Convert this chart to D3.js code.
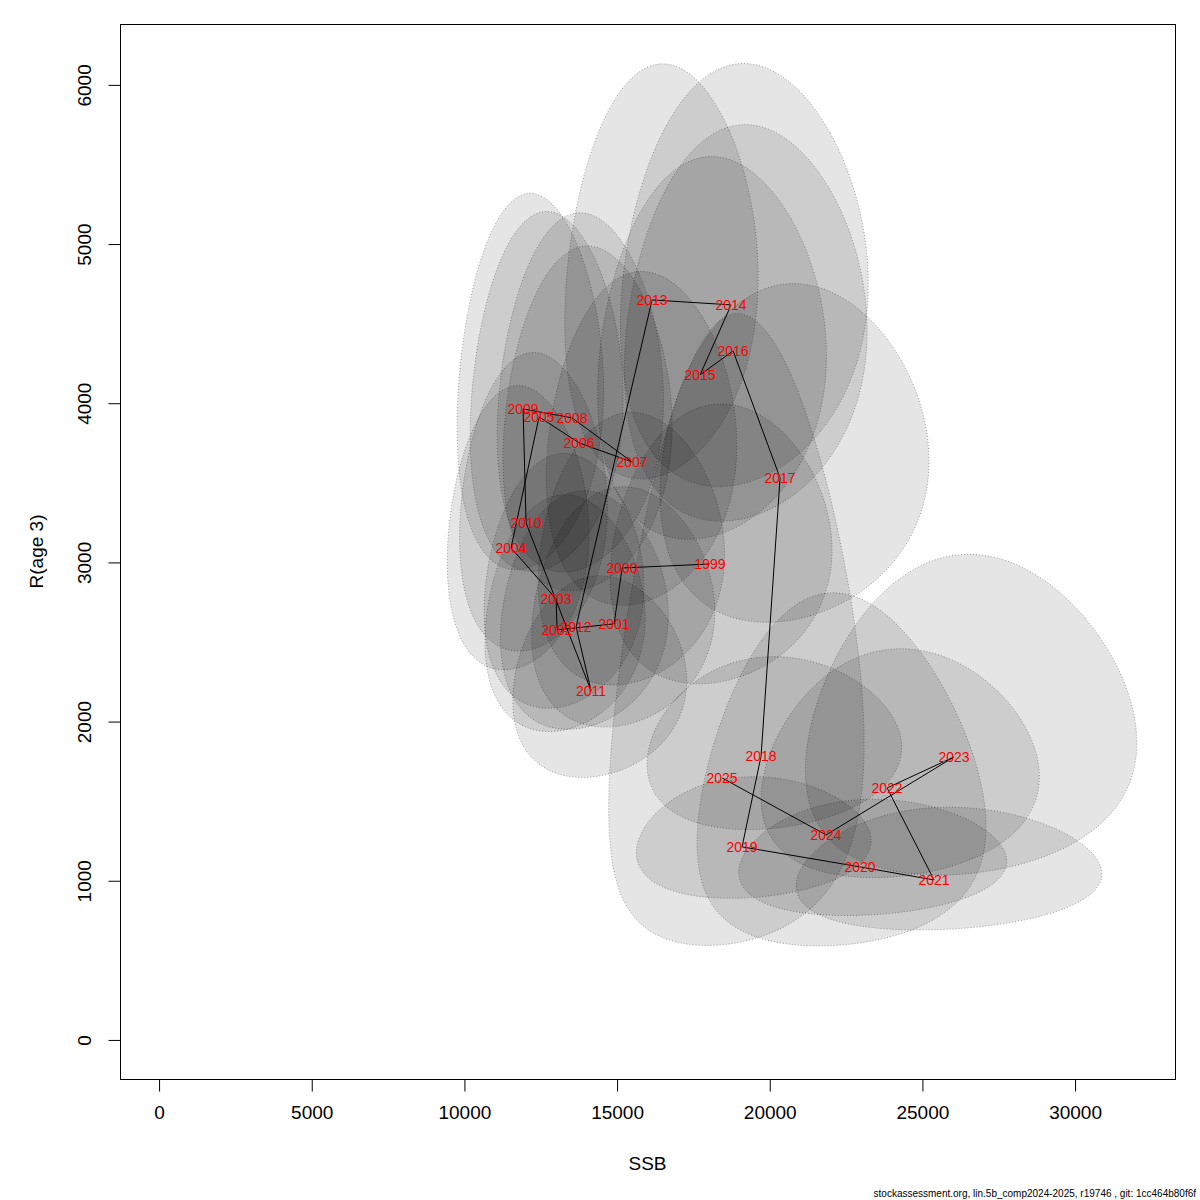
<!DOCTYPE html>
<html>
<head>
<meta charset="utf-8">
<script src="https://cdn.jsdelivr.net/npm/d3@7"></script>
<style>
  body { margin: 0; background: #fff; }
  text { font-family: "Liberation Sans", Arial, Helvetica, sans-serif; }
</style>
</head>
<body>
<div id="chart"></div>
<script>
// recruitment year, SSB, R(age 3)
var years = [1999, 2000, 2001, 2002, 2003, 2004, 2005, 2006, 2007, 2008, 2009, 2010, 2011, 2012,
             2013, 2014, 2015, 2016, 2017, 2018, 2019, 2020, 2021, 2022, 2023, 2024, 2025]
var ssb = [18046, 15164, 14902, 13035, 13002, 11528, 12445, 13756, 15491, 13526, 11921, 12020, 14149, 13657,
           16146, 18734, 17718, 18799, 20339, 19716, 19094, 22959, 25382, 23843, 26037, 21845, 18439]
var rec = [2990, 2965, 2614, 2576, 2771, 3091, 3914, 3751, 3631, 3908, 3964, 3248, 2193, 2595,
           4649, 4618, 4178, 4329, 3531, 1784, 1213, 1087, 1005, 1583, 1778, 1288, 1646]
// 95% half widths of the confidence ellipses on log scale, and correlation
var halfLogSSB = [0.20, 0.20, 0.20, 0.20, 0.20, 0.20, 0.20, 0.20, 0.20, 0.20, 0.20, 0.20, 0.20, 0.20,
                  0.195, 0.215, 0.21, 0.21, 0.215, 0.21, 0.20, 0.19, 0.196, 0.19, 0.207, 0.215, 0.225]
var halfLogR = [0.29, 0.285, 0.285, 0.285, 0.285, 0.285, 0.285, 0.285, 0.285, 0.285, 0.294, 0.285, 0.285, 0.285,
                0.277, 0.284, 0.284, 0.284, 0.297, 0.30, 0.31, 0.33, 0.375, 0.44, 0.54, 0.78, 1.02]
var corr = [0.1, 0.1, 0.1, 0.1, 0.1, 0.1, 0.1, 0.1, 0.1, 0.1, 0.1, 0.1, 0.1, 0.1,
            0.11, 0.1, 0.1, 0.1, 0.1, 0.1, 0.1, 0.1, 0.1, 0.1, 0.09, 0.05, 0.12]

var xTicks = [0, 5000, 10000, 15000, 20000, 25000, 30000]
var yTicks = [0, 1000, 2000, 3000, 4000, 5000, 6000]
var xlim = [0, 31993]
var ylim = [0, 6137]

var width = 1200, height = 1200
var plot = { left: 120, right: 1175, top: 24, bottom: 1079 }

var svg = d3.select("#chart").append("svg")
    .attr("width", width)
    .attr("height", height)
    .style("background", "#fff")

// R style 4% axis extension
var dx = (xlim[1] - xlim[0]) * 0.04, dy = (ylim[1] - ylim[0]) * 0.04
var x = d3.scaleLinear().domain([xlim[0] - dx, xlim[1] + dx]).range([plot.left, plot.right])
var y = d3.scaleLinear().domain([ylim[0] - dy, ylim[1] + dy]).range([plot.bottom, plot.top])

// ellipses
var clip = svg.append("clipPath").attr("id", "clip").append("rect")
    .attr("x", plot.left).attr("y", plot.top)
    .attr("width", plot.right - plot.left).attr("height", plot.bottom - plot.top)

var line = d3.line().x(function (d) { return x(d[0]) }).y(function (d) { return y(d[1]) })

var ell = svg.append("g").attr("clip-path", "url(#clip)")
years.forEach(function (yr, i) {
    var d = Math.acos(corr[i])
    var ls = Math.log(ssb[i]), lr = Math.log(rec[i])
    var pts = []
    for (var k = 0; k < 100; k++) {
        var t = 2 * Math.PI * k / 100
        pts.push([Math.exp(ls + halfLogSSB[i] * Math.cos(t + d / 2)),
                  Math.exp(lr + halfLogR[i] * Math.cos(t - d / 2))])
    }
    ell.append("path")
        .attr("d", line(pts) + "Z")
        .attr("fill", "rgba(0,0,0,0.1)")
        .attr("stroke", "rgba(0,0,0,0.35)")
        .attr("stroke-width", 1)
        .attr("stroke-dasharray", "1,2")
})

// trajectory
svg.append("path")
    .datum(years.map(function (yr, i) { return [ssb[i], rec[i]] }))
    .attr("d", line)
    .attr("fill", "none")
    .attr("stroke", "#000")
    .attr("stroke-width", 1)

svg.selectAll(".yr")
    .data(years)
    .enter().append("text")
    .attr("class", "yr")
    .attr("x", function (d, i) { return x(ssb[i]) })
    .attr("y", function (d, i) { return y(rec[i]) })
    .attr("dy", "0.35em")
    .attr("text-anchor", "middle")
    .attr("fill", "#ff0000")
    .attr("font-size", "14px")
    .text(function (d) { return d })

// box
svg.append("rect")
    .attr("x", plot.left + 0.5).attr("y", plot.top + 0.5)
    .attr("width", plot.right - plot.left).attr("height", plot.bottom - plot.top)
    .attr("fill", "none").attr("stroke", "#000")

// x axis
var xa = svg.append("g").attr("transform", "translate(0," + (plot.bottom + 0.5) + ")")
    .call(d3.axisBottom(x).tickValues(xTicks).tickSize(12).tickPadding(14).tickFormat(d3.format("d")))
xa.select(".domain").attr("d", "M" + x(xTicks[0]) + ",0H" + x(xTicks[xTicks.length - 1]))
xa.selectAll("text").attr("font-size", "19px").attr("font-family", "Liberation Sans, Arial, sans-serif").attr("fill", "#000")

// y axis
var ya = svg.append("g").attr("transform", "translate(" + (plot.left + 0.5) + ",0)")
    .call(d3.axisLeft(y).tickValues(yTicks).tickSize(12).tickFormat(d3.format("d")))
ya.select(".domain").attr("d", "M0," + y(yTicks[0]) + "V" + y(yTicks[yTicks.length - 1]))
ya.selectAll(".tick text")
    .attr("font-size", "19px").attr("font-family", "Liberation Sans, Arial, sans-serif").attr("fill", "#000")
    .attr("x", null).attr("dy", null)
    .attr("text-anchor", "middle")
    .attr("transform", "translate(-30,0) rotate(-90)")

svg.append("text")
    .attr("x", (plot.left + plot.right) / 2).attr("y", 1170)
    .attr("text-anchor", "middle").attr("font-size", "19px")
    .text("SSB")

svg.append("text")
    .attr("transform", "translate(43," + (plot.top + plot.bottom) / 2 + ") rotate(-90)")
    .attr("text-anchor", "middle").attr("font-size", "19px")
    .text("R(age 3)")

svg.append("text")
    .attr("x", 1196).attr("y", 1197)
    .attr("text-anchor", "end").attr("font-size", "10px")
    .text("stockassessment.org, lin.5b_comp2024-2025, r19746 , git: 1cc464b80f6f")
</script>
</body>
</html>
